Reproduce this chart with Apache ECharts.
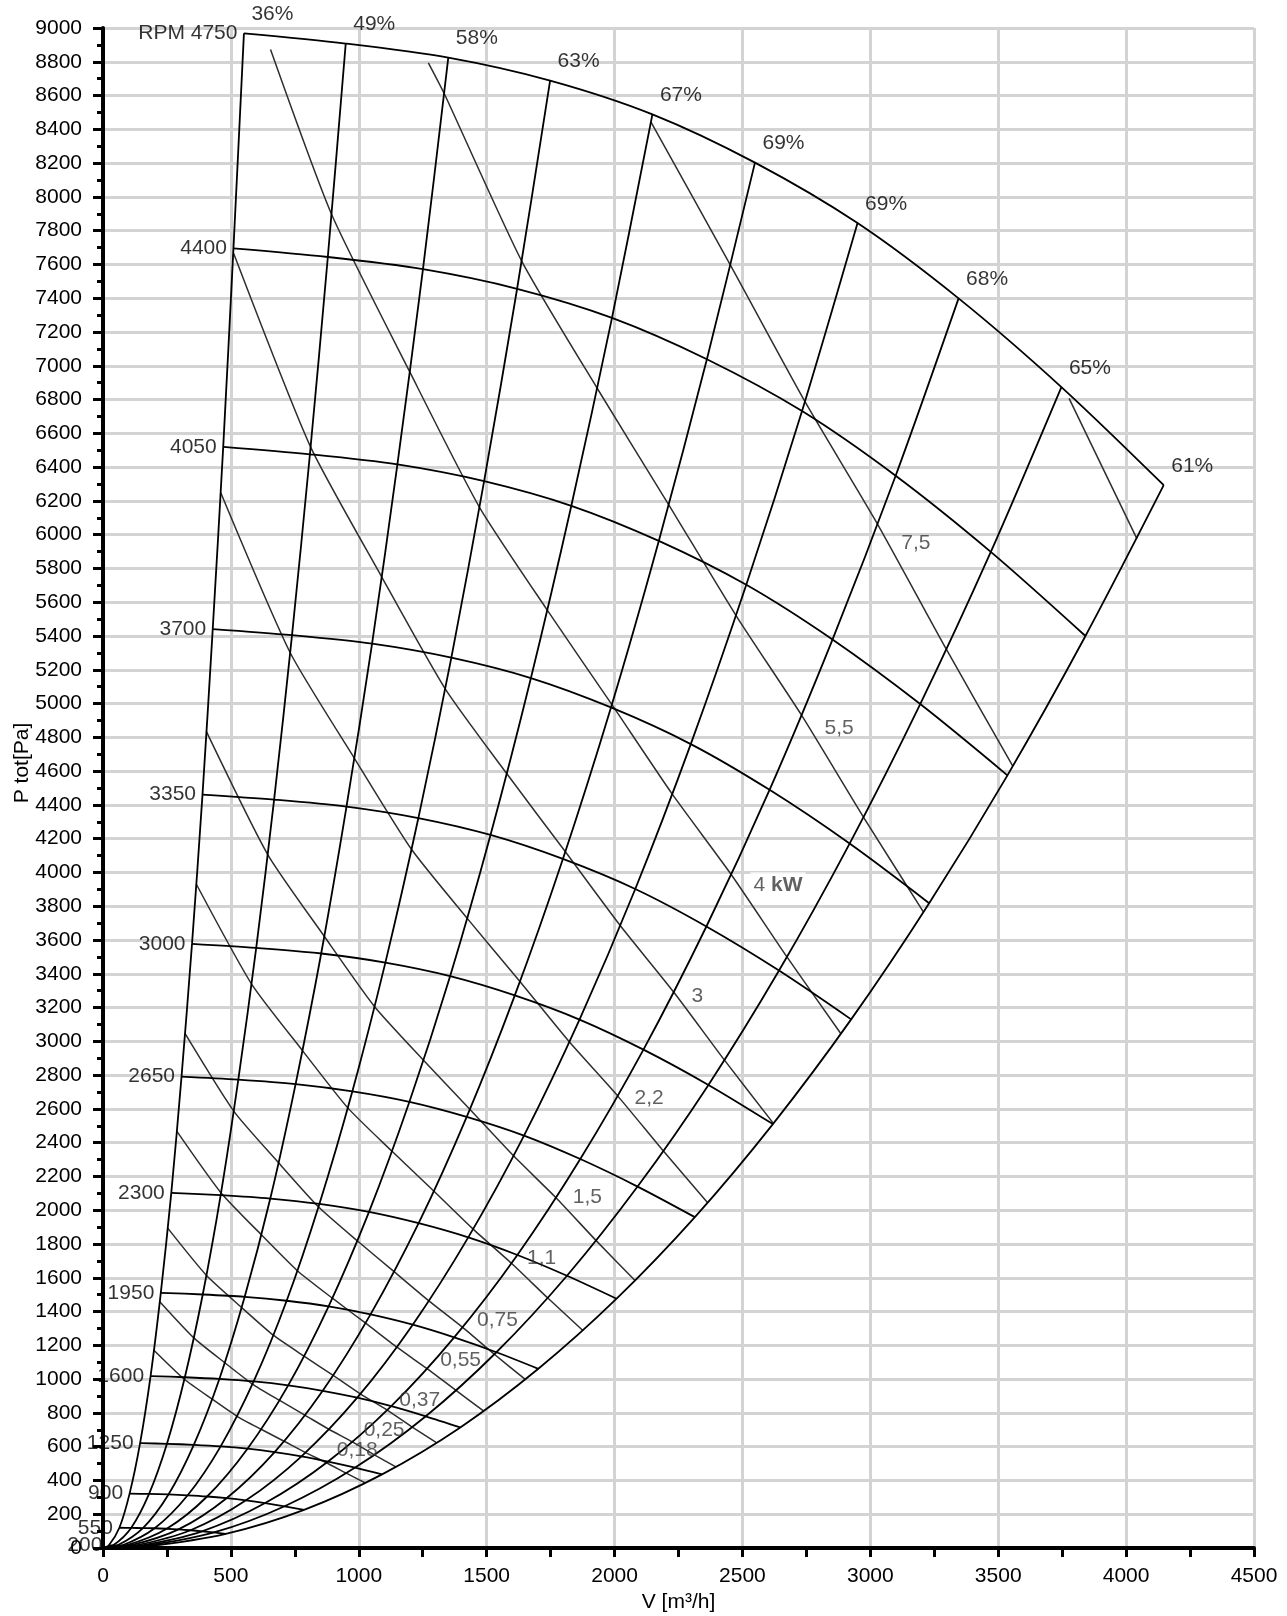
<!DOCTYPE html>
<html>
<head>
<meta charset="utf-8">
<title>Fan curve</title>
<script src="https://cdn.jsdelivr.net/npm/echarts/dist/echarts.min.js"></script>
<style>
html, body { margin: 0; padding: 0; background: #fff; }
#chart { width: 1287px; height: 1616px; }
</style>
</head>
<body>
<div id="chart"></div>
<script>
// speed curves (RPM), points where the efficiency lines cross them
var rpmLabels = ['RPM 4750', '4400', '4050', '3700', '3350', '3000', '2650', '2300', '1950', '1600', '1250', '900', '550', '200'];
var rpmFlow = [
  [551, 949, 1350, 1748, 2148, 2549, 2950, 3345, 3747, 4147],
  [510, 879, 1251, 1619, 1990, 2361, 2733, 3099, 3471, 3841],
  [470, 809, 1151, 1490, 1831, 2173, 2515, 2852, 3195, 3536],
  [429, 739, 1052, 1362, 1673, 1986, 2298, 2606, 2919, 3230],
  [389, 669, 952, 1233, 1515, 1798, 2081, 2359, 2643, 2925],
  [348, 599, 853, 1104, 1357, 1610, 1863, 2113, 2367, 2619],
  [307, 529, 753, 975, 1198, 1422, 1646, 1866, 2090, 2314],
  [267, 460, 654, 846, 1040, 1234, 1428, 1620, 1814, 2008],
  [226, 390, 554, 718, 882, 1046, 1211, 1373, 1538, 1702],
  [186, 320, 455, 589, 724, 859, 994, 1127, 1262, 1397],
  [145, 250, 355, 460, 565, 671, 776, 880, 986, 1091],
  [104, 180, 256, 331, 407, 483, 559, 634, 710, 786],
  [64, 110, 156, 202, 249, 295, 342, 387, 434, 480],
  [23, 40, 57, 74, 90, 107, 124, 141, 158, 175]
];
var rpmPress = [
  [8968, 8908, 8825, 8689, 8489, 8203, 7845, 7399, 6874, 6293],
  [7695, 7644, 7572, 7456, 7284, 7039, 6732, 6349, 5898, 5400],
  [6520, 6476, 6416, 6317, 6171, 5963, 5703, 5379, 4997, 4575],
  [5441, 5405, 5355, 5272, 5151, 4977, 4760, 4489, 4171, 3818],
  [4461, 4431, 4390, 4322, 4222, 4080, 3902, 3680, 3419, 3130],
  [3577, 3553, 3520, 3466, 3386, 3272, 3129, 2951, 2742, 2510],
  [2791, 2773, 2747, 2704, 2642, 2553, 2442, 2303, 2140, 1959],
  [2103, 2089, 2069, 2037, 1990, 1923, 1839, 1735, 1612, 1476],
  [1511, 1501, 1487, 1464, 1431, 1383, 1322, 1247, 1159, 1061],
  [1018, 1011, 1001, 986, 963, 931, 890, 840, 780, 714],
  [621, 617, 611, 602, 588, 568, 543, 512, 476, 436],
  [322, 320, 317, 312, 305, 295, 282, 266, 247, 226],
  [120, 119, 118, 117, 114, 110, 105, 99, 92, 84],
  [16, 16, 16, 15, 15, 15, 14, 13, 12, 11]
];
var effLabels = ['36%', '49%', '58%', '63%', '67%', '69%', '69%', '68%', '65%', '61%'];

// power curves [kW]
var powerFlow = [
  [199, 318, 427, 524, 618, 708, 792, 873, 951, 1026],
  [222, 355, 476, 584, 689, 789, 883, 975, 1061, 1145],
  [253, 404, 542, 666, 786, 900, 1006, 1111, 1209, 1305],
  [289, 461, 619, 760, 897, 1027, 1149, 1267, 1380, 1489],
  [321, 511, 686, 843, 994, 1138, 1274, 1406, 1530, 1651],
  [365, 581, 780, 957, 1130, 1294, 1447, 1597, 1739, 1876],
  [404, 644, 865, 1062, 1253, 1434, 1605, 1771, 1928, 2080],
  [460, 732, 983, 1206, 1424, 1630, 1823, 2012, 2191, 2364],
  [511, 812, 1090, 1338, 1579, 1807, 2022, 2231, 2429, 2621],
  [655, 894, 1199, 1472, 1737, 1989, 2225, 2456, 2674, 2885],
  [1272, 1334, 1637, 1932, 2212, 2475, 2731, 2973, 3208],
  [2142, 2453, 2744, 3028, 3297, 3557],
  [3777, 4042]
];
var powerPress = [
  [1171, 999, 881, 780, 703, 632, 565, 505, 443, 385],
  [1458, 1244, 1097, 971, 875, 787, 703, 628, 551, 480],
  [1894, 1615, 1424, 1260, 1136, 1022, 913, 816, 716, 623],
  [2467, 2104, 1855, 1642, 1479, 1331, 1189, 1062, 933, 811],
  [3045, 2587, 2282, 2019, 1819, 1636, 1463, 1306, 1147, 998],
  [3930, 3339, 2945, 2606, 2349, 2112, 1888, 1686, 1480, 1288],
  [4835, 4106, 3622, 3205, 2888, 2598, 2322, 2074, 1820, 1584],
  [6250, 5301, 4676, 4137, 3728, 3354, 2997, 2677, 2350, 2044],
  [7665, 6518, 5749, 5087, 4584, 4124, 3686, 3292, 2890, 2514],
  [8873, 7896, 6965, 6162, 5553, 4995, 4465, 3988, 3500, 3045],
  [8794, 8612, 7620, 6867, 6177, 5521, 4931, 4328, 3765],
  [8444, 7596, 6789, 6063, 5322, 4630],
  [6807, 5977]
];
var powerLabels = ['0,18', '0,25', '0,37', '0,55', '0,75', '1,1', '1,5', '2,2', '3', '4 kW', '5,5', '7,5'];
var powerLabelFlow = [994, 1099, 1238, 1398, 1542, 1715, 1894, 2135, 2324, 2639, 2878, 3178];
var powerLabelPress = [577, 696, 873, 1111, 1348, 1713, 2079, 2662, 3265, 3927, 4856, 5947];

var font = 'Liberation Sans, Arial, sans-serif';
var chart = echarts.init(document.getElementById('chart'), null, { renderer: 'canvas' });

var series = [];

// power curves (grey)
powerFlow.forEach(function (xs, j) {
  series.push({
    type: 'line',
    data: xs.map(function (x, i) { return [x, powerPress[j][i]]; }),
    showSymbol: false,
    smooth: 0.2,
    silent: true,
    z: 2,
    lineStyle: { color: '#2e2e2e', width: 1.5 }
  });
});

// speed curves
rpmFlow.forEach(function (xs, k) {
  series.push({
    type: 'line',
    data: xs.map(function (x, i) { return [x, rpmPress[k][i]]; }),
    showSymbol: false,
    smooth: 0.3,
    silent: true,
    z: 3,
    lineStyle: { color: '#000', width: 1.8 }
  });
});

// efficiency lines: origin + same point on every speed curve
effLabels.forEach(function (lab, i) {
  var pts = [[0, 0]];
  for (var k = rpmFlow.length - 1; k >= 0; k--) {
    pts.push([rpmFlow[k][i], rpmPress[k][i]]);
  }
  series.push({
    type: 'line',
    data: pts,
    showSymbol: false,
    smooth: 0.3,
    silent: true,
    z: 3,
    lineStyle: { color: '#000', width: 1.8 }
  });
});

// text labels
series.push({
  type: 'scatter',
  symbolSize: 1,
  itemStyle: { color: 'rgba(0,0,0,0)' },
  silent: true,
  z: 5,
  data: rpmLabels.map(function (t, k) { return { name: t, value: [rpmFlow[k][0], rpmPress[k][0]] }; }),
  label: { show: true, position: 'left', distance: 6, formatter: '{b}', color: '#000', fontSize: 21, fontFamily: font }
});
series.push({
  type: 'scatter',
  symbolSize: 1,
  itemStyle: { color: 'rgba(0,0,0,0)' },
  silent: true,
  z: 5,
  data: effLabels.map(function (t, i) { return { name: t, value: [rpmFlow[0][i], rpmPress[0][i]] }; }),
  label: { show: true, position: 'right', distance: 7, offset: [0, -19], formatter: '{b}', color: '#000', fontSize: 21, fontFamily: font }
});
series.push({
  type: 'scatter',
  symbolSize: 1,
  itemStyle: { color: 'rgba(0,0,0,0)' },
  silent: true,
  z: 6,
  data: powerLabels.map(function (t, j) {
    var item = { name: t, value: [powerLabelFlow[j], powerLabelPress[j]] };
    if (t === '4 kW') item.label = { backgroundColor: '#fff', padding: [2, 3] };
    return item;
  }),
  label: {
    show: true, position: 'inside', color: '#3a3a3a', fontSize: 21, fontFamily: font,
    formatter: function (p) { return p.name === '4 kW' ? '{n|4} {b|kW}' : p.name; },
    rich: { n: { color: '#3a3a3a', fontSize: 21, fontFamily: font }, b: { color: '#3a3a3a', fontSize: 21, fontWeight: 'bold', fontFamily: font } }
  }
});

var gridLine = { show: true, lineStyle: { color: '#d3d3d3', width: 3 } };

chart.setOption({
  animation: false,
  backgroundColor: '#fff',
  textStyle: { fontFamily: font },
  grid: { left: 103, right: 33, top: 28, bottom: 68, containLabel: false, outerBoundsMode: 'none' },
  xAxis: {
    type: 'value', min: 0, max: 4500, interval: 500,
    name: 'V [m³/h]', nameLocation: 'middle', nameGap: 44, nameMoveOverlap: false,
    nameTextStyle: { color: '#000', fontSize: 21, fontFamily: font },
    axisLine: { show: true, onZero: false, lineStyle: { color: '#000', width: 4 } },
    axisTick: { show: true, length: 9, lineStyle: { color: '#000', width: 3 } },
    minorTick: { show: true, splitNumber: 2, length: 9, lineStyle: { color: '#000', width: 3 } },
    axisLabel: { margin: 18, color: '#000', fontSize: 21, fontFamily: font, formatter: function (v) { return String(v); } },
    splitLine: gridLine
  },
  yAxis: {
    type: 'value', min: 0, max: 9000, interval: 200,
    name: 'P tot[Pa]', nameLocation: 'middle', nameGap: 70, nameMoveOverlap: false,
    nameTextStyle: { color: '#000', fontSize: 21, fontFamily: font, padding: [0, 0, 0, 50] },
    axisLine: { show: true, onZero: false, lineStyle: { color: '#000', width: 4 } },
    axisTick: { show: true, length: 10, lineStyle: { color: '#000', width: 3 } },
    minorTick: { show: true, splitNumber: 2, length: 6, lineStyle: { color: '#000', width: 3 } },
    axisLabel: { margin: 21, color: '#000', fontSize: 21, fontFamily: font, formatter: function (v) { return String(v); } },
    splitLine: gridLine
  },
  series: series
});
</script>
</body>
</html>
